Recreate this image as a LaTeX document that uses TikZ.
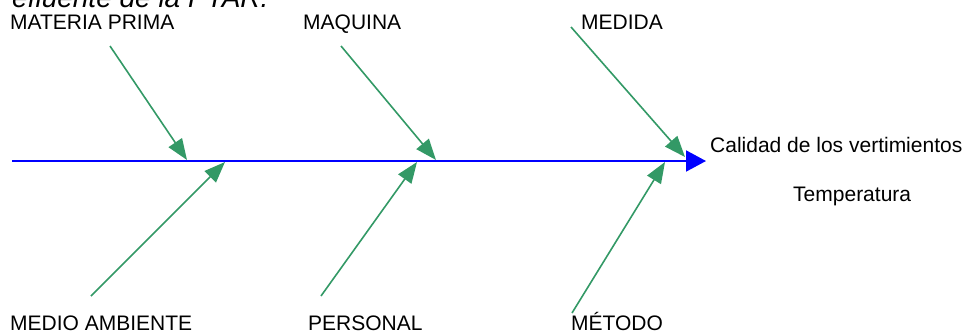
\documentclass[tikz,border=0pt]{standalone}
\usepackage{fontspec}
\setmainfont{Liberation Sans}
\usetikzlibrary{arrows.meta}
\definecolor{bonegreen}{RGB}{51,153,102}
\begin{document}
\begin{tikzpicture}[x=1pt,y=-1pt,
  label/.style={font=\fontsize{21}{24}\selectfont, inner sep=0pt, anchor=base west},
  spine/.style={draw=blue, line width=2pt, -{Triangle[length=20pt,width=21pt]}},
  bone/.style={draw=bonegreen, line width=1.6pt, -{Triangle[length=21pt,width=16pt]}}]
\useasboundingbox (0,0) rectangle (969,335);
% heading line, partly above the top edge
\begin{scope}
\clip (0,0) rectangle (969,335);
\node[label, font=\fontsize{28}{32}\selectfont\itshape] (title) at (12,7) {efluente de la PTAR.};
\end{scope}
% cause labels
\node[label] (mp) at (10,29) {MATERIA PRIMA};
\node[label] (mq) at (303,29) {MAQUINA};
\node[label] (md) at (581,29) {MEDIDA};
\node[label] (ma) at (10,330) {MEDIO AMBIENTE};
\node[label] (pe) at (308,330) {PERSONAL};
\node[label] (me) at (571,330) {MÉTODO};
% effect labels
\node[label] (ef) at (710,152) {Calidad de los vertimientos};
\node[label] (te) at (793,201) {Temperatura};
% spine and bone end points
\coordinate (s0) at (12,161);
\coordinate (s1) at (706,161);
\coordinate (a1) at (110,46);  \coordinate (b1) at (187,160);
\coordinate (a2) at (341,46);  \coordinate (b2) at (436,160);
\coordinate (a3) at (571,27);  \coordinate (b3) at (685,157);
\coordinate (a4) at (91,296);  \coordinate (b4) at (225,162);
\coordinate (a5) at (321,296); \coordinate (b5) at (417,162);
\coordinate (a6) at (572,313); \coordinate (b6) at (665,162);
\draw[spine] (s0) -- (s1);
\foreach \i in {1,...,6} \draw[bone] (a\i) -- (b\i);
\end{tikzpicture}
\end{document}
